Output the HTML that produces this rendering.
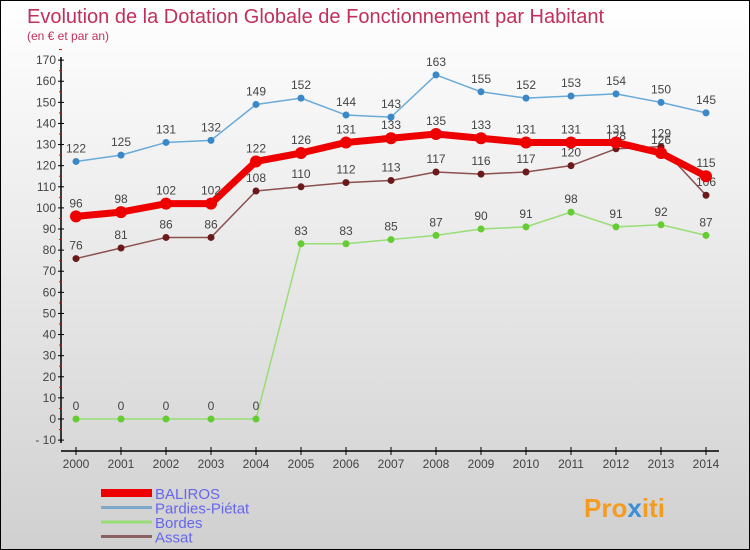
<!DOCTYPE html>
<html><head><meta charset="utf-8"><style>
body{margin:0}
#c{width:750px;height:550px;position:relative;box-sizing:border-box;border:1px solid #000;background:linear-gradient(#ffffff,#d0d0d0);font-family:"Liberation Sans",sans-serif;overflow:hidden}
</style></head><body>
<div id="c">
<svg id="s" width="748" height="548" xmlns="http://www.w3.org/2000/svg">
<text x="26" y="22" font-size="20" fill="#c0305a">Evolution de la Dotation Globale de Fonctionnement par Habitant</text>
<text x="26" y="39" font-size="12" fill="#c0305a">(en € et par an)</text>
<g id="axes"></g><g id="series"></g><g id="legend"></g>
<text x="583" y="516" font-size="26" font-weight="bold" fill="#f39c1f">Pro<tspan fill="#3a8fd8">x</tspan>iti</text>
</svg>
</div>
<script>
const years=[2000,2001,2002,2003,2004,2005,2006,2007,2008,2009,2010,2011,2012,2013,2014];
const yTicks=[-10,0,10,20,30,40,50,60,70,80,90,100,110,120,130,140,150,160,170];
const seriesNames=["BALIROS","Pardies-Piétat","Bordes","Assat"];
const baliros=[96,98,102,102,122,126,131,133,135,133,131,131,131,126,115];
const pardies=[122,125,131,132,149,152,144,143,163,155,152,153,154,150,145];
const bordes=[0,0,0,0,0,83,83,85,87,90,91,98,91,92,87];
const assat=[76,81,86,86,108,110,112,113,117,116,117,120,128,129,106];
const NS="http://www.w3.org/2000/svg";
const X=i=>75+i*45;
const Y=v=>418-v*2.111;
function mk(t,a,p){const e=document.createElementNS(NS,t);for(const k in a)e.setAttribute(k,a[k]);p.appendChild(e);return e;}
const ax=document.getElementById('axes');
let l=mk('line',{x1:60,y1:56,x2:60,y2:442,stroke:'#000','stroke-width':1.5},ax);


l=mk('line',{x1:60,y1:450,x2:718,y2:450,stroke:'#000','stroke-width':1.5},ax);


yTicks.forEach(v=>{
 mk('line',{x1:57,y1:Y(v),x2:63,y2:Y(v),stroke:'#000'},ax);
 mk('line',{x1:58,y1:Y(v+5),x2:61,y2:Y(v+5),stroke:'#e00'},ax);
 const t=mk('text',{x:55,y:Y(v)+4,'text-anchor':'end','font-size':12,fill:'#444'},ax);
 t.textContent=v<0?'- '+(-v):v;
 
 
});
years.forEach((y,i)=>{
 mk('line',{x1:X(i),y1:446,x2:X(i),y2:454,stroke:'#000'},ax);
 const t=mk('text',{x:X(i),y:467,'text-anchor':'middle','font-size':12,fill:'#444'},ax);
 t.textContent=y;
 
 
});
const sg=document.getElementById('series');
function draw(vals,col,dot,w,r,name){
 const g=mk('g',{},sg);
 
 
 mk('polyline',{points:vals.map((v,i)=>X(i)+','+Y(v)).join(' '),fill:'none',stroke:col,'stroke-width':w,'stroke-linejoin':'round'},g);
 vals.forEach((v,i)=>{
  const c=mk('circle',{cx:X(i),cy:Y(v),r:r,fill:dot},g);
  
  
  const t=mk('text',{x:X(i),y:Y(v)-9,'text-anchor':'middle','font-size':12,fill:'#444'},g);
  t.textContent=v;
  
  
 });
}
draw(pardies,'#6aaad8','#3a88c8',1.5,3.5,'series-pardies');
draw(bordes,'#99dd77','#66cc33',1.5,3.5,'series-bordes');
draw(assat,'#8b5050','#6a1a1a',1.5,3.5,'series-assat');
draw(baliros,'#ee0000','#ee0000',7,6,'series-baliros');
const lg=document.getElementById('legend');
const cols=['#ee0000','#7fa8c8','#99dd77','#8b6060'],ws=[8,3,3,3];
seriesNames.forEach((n,i)=>{
 const yy=492+i*14.5;
 const g=mk('g',{},lg);
 
 
 mk('line',{x1:100,y1:yy,x2:151,y2:yy,stroke:cols[i],'stroke-width':ws[i]},g);
 const t=mk('text',{x:154,y:yy+6,'font-size':15,fill:'#6666ee'},g);
 t.textContent=n;
});
</script>
</body></html>
